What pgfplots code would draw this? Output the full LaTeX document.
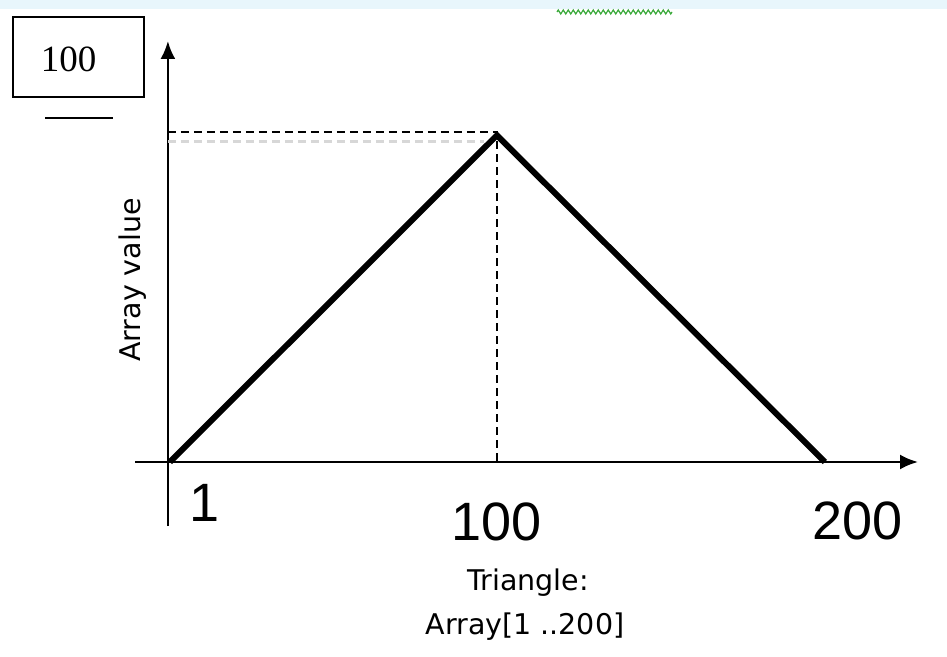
\documentclass[border=0pt]{standalone}
\usepackage{fontspec}
\setmainfont{Liberation Sans}
\newfontfamily\labelfont{DejaVu Sans}
\newfontfamily\boxfont{Liberation Serif}
\usepackage{pgfplots}
\pgfplotsset{compat=1.18}
\usetikzlibrary{arrows.meta,decorations.pathmorphing}
\definecolor{bandblue}{RGB}{232,246,252}
\definecolor{squiggle}{RGB}{60,170,60}
\definecolor{ghost}{RGB}{215,215,215}
\begin{document}
\begin{tikzpicture}
% page frame and the light band along the top
\path[use as bounding box, fill=white] (0pt,0pt) rectangle (947pt,656pt);
\fill[bandblue] (0pt,647pt) rectangle (947pt,656pt);
\draw[squiggle, line width=1.2pt, decorate,
      decoration={zigzag, segment length=5pt, amplitude=2pt}]
      (557pt,644pt) -- (672pt,644pt);

% value box in the upper left corner
\draw[line width=2pt] (13pt,559pt) rectangle (144pt,639pt);
\node[inner sep=0pt] at (68.5pt,596.5pt) {\boxfont\fontsize{37}{40}\selectfont 100};
\draw[line width=2pt] (45pt,538pt) -- (113pt,538pt);

\begin{axis}[
  at={(135pt,130pt)}, anchor=south west,
  scale only axis, width=783pt, height=485pt,
  xmin=-10, xmax=228, ymin=-19.4, ymax=127.6,
  axis lines=none,
  xtick=\empty, ytick=\empty,
  clip=false,
]
% axes through the origin, with arrow heads
\draw[line width=2.5pt, -{Latex[length=18pt,width=15pt]}]
  (axis cs:-10,0) -- (axis cs:228,0);
\draw[line width=2.5pt, -{Latex[length=18pt,width=15pt]}]
  (axis cs:0,-19.4) -- (axis cs:0,127.6);
% guide lines to the peak
\addplot[ghost, line width=3pt, dash pattern=on 8pt off 5pt]
  coordinates {(0,97.2) (96,97.2)};
\addplot[black, line width=1.5pt, dash pattern=on 8pt off 5pt]
  coordinates {(0,100) (100,100) (100,0)};
% triangle array
\addplot[black, line width=6pt, line join=miter]
  coordinates {(0.6,0) (100,99) (199.7,0)};

% index labels
\node[inner sep=0pt] at (axis cs:11.2,-12.4) {\fontsize{54}{60}\selectfont 1};
\node[inner sep=0pt] at (axis cs:100,-18.2) {\fontsize{54}{60}\selectfont 100};
\node[inner sep=0pt] at (axis cs:209.7,-17.9) {\fontsize{54}{60}\selectfont 200};
\end{axis}

% axis captions
\node[rotate=90, inner sep=0pt] at (133pt,376pt)
  {\labelfont\fontsize{28.5}{31}\selectfont Array value};
\node[inner sep=0pt] at (528pt,73pt)
  {\labelfont\fontsize{28.5}{31}\selectfont Triangle:};
\node[inner sep=0pt] at (525pt,29pt)
  {\labelfont\fontsize{28.5}{31}\selectfont Array[1 ..200]};
\end{tikzpicture}
\end{document}
